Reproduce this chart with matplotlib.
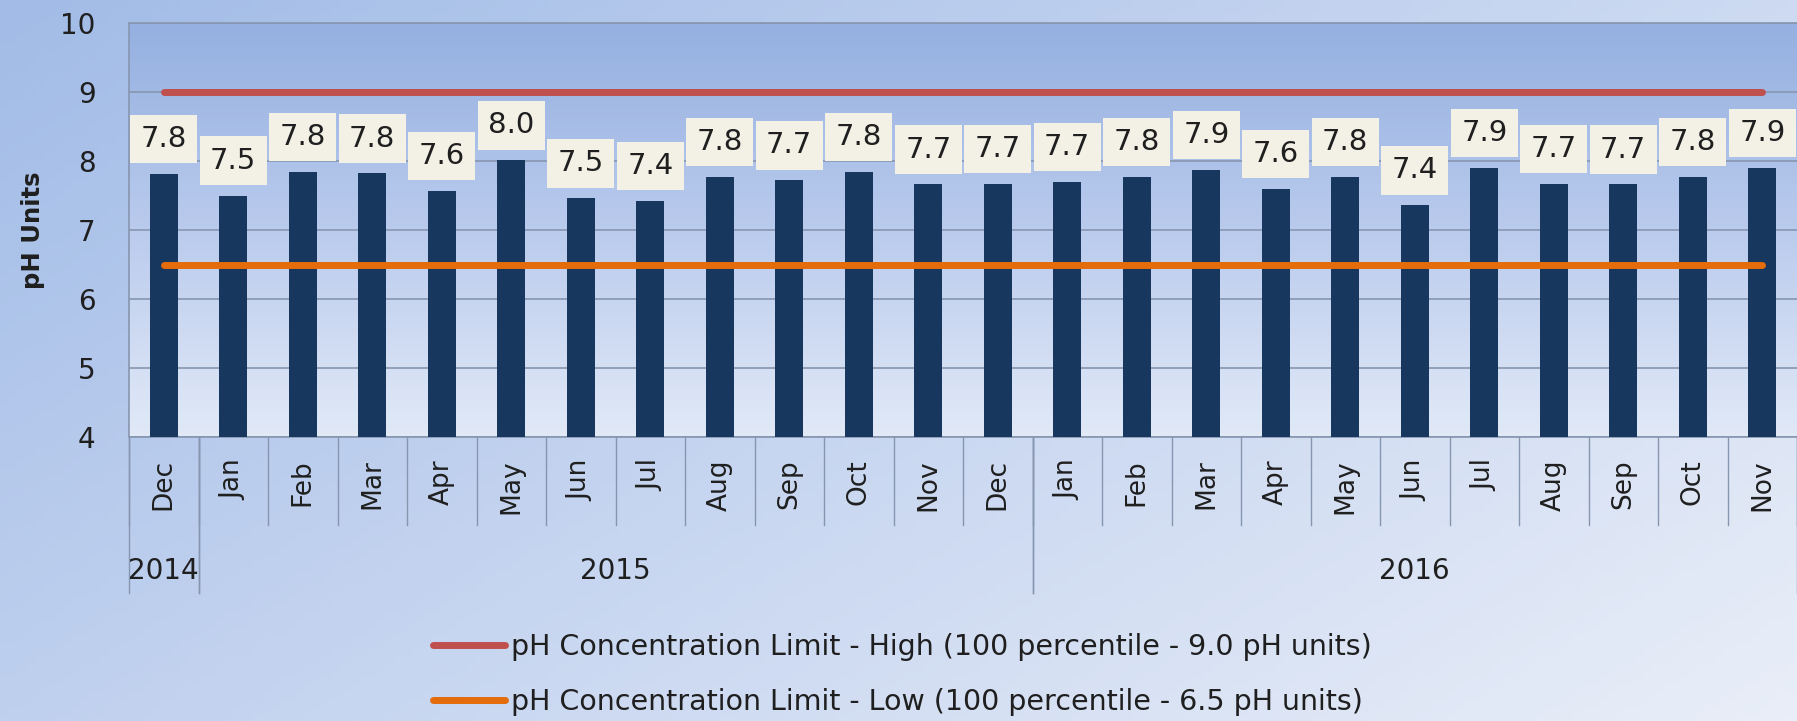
import matplotlib.pyplot as plt
import numpy as np
from matplotlib.colors import LinearSegmentedColormap

# monthly pH readings, Dec 2014 - Nov 2016
months = ['Dec', 'Jan', 'Feb', 'Mar', 'Apr', 'May', 'Jun', 'Jul', 'Aug', 'Sep', 'Oct', 'Nov',
          'Dec', 'Jan', 'Feb', 'Mar', 'Apr', 'May', 'Jun', 'Jul', 'Aug', 'Sep', 'Oct', 'Nov']
ph_values = [7.81, 7.50, 7.84, 7.82, 7.57, 8.01, 7.46, 7.42, 7.77, 7.72, 7.84, 7.66,
             7.67, 7.70, 7.77, 7.87, 7.60, 7.77, 7.36, 7.90, 7.67, 7.66, 7.77, 7.90]
years = ['2014', '2015', '2016']
year_spans = [(0, 0), (1, 12), (13, 23)]
high_limit = 9.0
low_limit = 6.5
high_label = 'pH Concentration Limit - High (100 percentile - 9.0 pH units)'
low_label = 'pH Concentration Limit - Low (100 percentile - 6.5 pH units)'

plt.rcParams['font.family'] = ['DejaVu Sans']
text_color = '#1f1f1f'
grid_color = '#8796b0'

fig = plt.figure(figsize=(17.97, 7.21), dpi=100)

# figure background gradient
bg = fig.add_axes([0, 0, 1, 1], zorder=-10)
bg_cmap = LinearSegmentedColormap.from_list('bg', ['#a2bce7', '#c6d5f0', '#e9eef8'])
gx, gy = np.meshgrid(np.linspace(0, 1, 200), np.linspace(0, 1, 100))
bg.imshow(0.6 * gx + 0.4 * gy, cmap=bg_cmap, aspect='auto', extent=[0, 1, 1, 0])
bg.axis('off')

ax = fig.add_axes([129 / 1797, 1 - 437 / 721, 1 - 129 / 1797, (437 - 23) / 721])
ax.patch.set_alpha(0)
x = np.arange(len(months))
ax.set_xlim(-0.5, len(months) - 0.5)
ax.set_ylim(4, 10)

plot_cmap = LinearSegmentedColormap.from_list('plot', ['#95b0e1', '#bacbed', '#e1e9f7'])
ax.imshow(np.linspace(0, 1, 100).reshape(-1, 1), cmap=plot_cmap, aspect='auto',
          extent=[0, 1, 0, 1], transform=ax.transAxes, zorder=0)

ax.set_yticks([4, 5, 6, 7, 8, 9, 10])
ax.grid(axis='y', color=grid_color, linewidth=1.2, zorder=1)
ax.set_axisbelow(True)
ax.spines['right'].set_visible(False)
for side in ['left', 'top', 'bottom']:
    ax.spines[side].set_color(grid_color)
    ax.spines[side].set_linewidth(1.2)

ax.bar(x, ph_values, width=0.4, color='#17375e', zorder=3)

high_line, = ax.plot([x[0], x[-1]], [high_limit, high_limit], color='#c0504d', lw=5,
                     solid_capstyle='round', zorder=4, label=high_label)
low_line, = ax.plot([x[0], x[-1]], [low_limit, low_limit], color='#e46c0a', lw=5,
                    solid_capstyle='round', zorder=4, label=low_label)

for xi, v in zip(x, ph_values):
    ax.annotate('%.1f' % v, xy=(xi, v), xytext=(0, 15), textcoords='offset points',
                ha='center', va='bottom', fontsize=21, color=text_color, zorder=5,
                bbox=dict(boxstyle='square,pad=0.35', fc='#f3f1e6', ec='none'))

ax.set_xticks(x)
ax.set_xticklabels(months, rotation=90, fontsize=19, color=text_color)
ax.tick_params(axis='x', length=0, pad=16)
ax.tick_params(axis='y', length=0, pad=24, labelsize=20, labelcolor=text_color)
ax.set_ylabel('pH Units', fontsize=17.5, fontweight='bold', color=text_color, labelpad=11)

# two-level category axis separators
trans = ax.get_xaxis_transform()
for k in range(len(months) + 1):
    bx = k - 0.5
    ax.plot([bx, bx], [0, -0.2126], color=grid_color, lw=1, transform=trans, clip_on=False)
for start, end in year_spans:
    for bx in [start - 0.5, end + 0.5]:
        ax.plot([bx, bx], [0, -0.377], color=grid_color, lw=1, transform=trans, clip_on=False)
for label, (start, end) in zip(years, year_spans):
    ax.text((start + end) / 2, -0.323, label, transform=trans, ha='center', va='center',
            fontsize=20, color=text_color)

fig.legend(handles=[high_line, low_line], loc='center', bbox_to_anchor=(0.502, 0.064),
           frameon=False, fontsize=20.5, handlelength=2.55, handletextpad=0.2,
           labelspacing=0.95, labelcolor=text_color)

fig.savefig('out.png', dpi=100)
